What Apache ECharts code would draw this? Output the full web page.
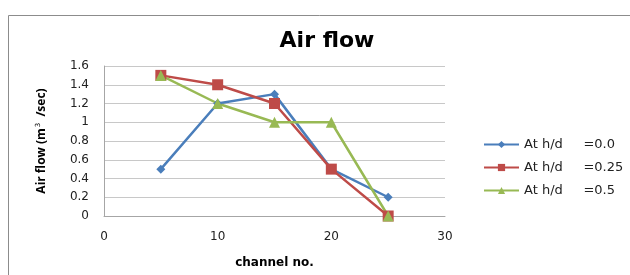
<!DOCTYPE html>
<html>
<head>
<meta charset="utf-8" />
<title>Air flow</title>
<script src="https://cdn.jsdelivr.net/npm/echarts@6/dist/echarts.min.js"></script>
<style>
  html, body { margin: 0; padding: 0; background: #fff; }
  #main { width: 630px; height: 275px; }
</style>
</head>
<body>
<div id="main"></div>
<script>
// channel numbers
var channels = [5, 10, 15, 20, 25];
// air flow values per h/d
var flow00 = [0.5, 1.2, 1.3, 0.5, 0.2];
var flow025 = [1.5, 1.4, 1.2, 0.5, 0];
var flow05 = [1.5, 1.2, 1.0, 1.0, 0];
var seriesNames = ['At h/d     =0.0', 'At h/d     =0.25', 'At h/d     =0.5'];

function pairs(vals) {
  return channels.map(function (c, i) { return [c, vals[i]]; });
}

var chart = echarts.init(document.getElementById('main'));
var font = '"DejaVu Sans", sans-serif';

var option = {
  animation: false,
  graphic: [{
    type: 'rect',
    shape: { x: 8.5, y: 15.5, width: 700, height: 300 },
    style: { fill: 'none', stroke: '#8c8c8c', lineWidth: 1 }
  }],
  title: {
    text: 'Air flow',
    left: 322, top: 25, textAlign: 'center',
    textStyle: { fontFamily: font, fontWeight: 'bold', fontSize: 22, color: '#000' }
  },
  legend: {
    orient: 'vertical',
    left: 478, top: 133,
    itemWidth: 35, itemHeight: 9, itemGap: 10,
    textStyle: { fontFamily: font, fontSize: 13, color: '#222' },
    data: seriesNames
  },
  grid: { left: 104, right: 185, top: 66, bottom: 59 },
  xAxis: {
    type: 'value', min: 0, max: 30, interval: 10,
    name: 'channel no.', nameLocation: 'middle', nameGap: 41,
    nameTextStyle: { fontFamily: font, fontWeight: 'bold', fontSize: 12, color: '#000' },
    axisLine: { lineStyle: { color: '#a6a6a6' } },
    axisTick: { show: false },
    axisLabel: { fontFamily: font, fontSize: 12, color: '#222', margin: 15 },
    splitLine: { show: false }
  },
  yAxis: {
    type: 'value', min: 0, max: 1.6, interval: 0.2,
    name: '{a|Air flow (m}{s|3}{a| /sec)}', nameLocation: 'middle', nameGap: 56,
    nameTextStyle: {
      rich: {
        a: { fontFamily: '"Liberation Sans Narrow", "Open Sans", sans-serif', fontWeight: 'bold', fontSize: 12, color: '#000' },
        s: { fontFamily: font, fontSize: 7, color: '#000', verticalAlign: 'top', padding: [0, 3, 6, 1] }
      }
    },
    axisLine: { show: true, lineStyle: { color: '#a6a6a6' } },
    axisTick: { show: false },
    axisLabel: { fontFamily: font, fontSize: 12, color: '#222', margin: 15 },
    splitLine: { lineStyle: { color: '#c8c8c8' } }
  },
  series: [
    {
      name: seriesNames[0], type: 'line', data: pairs(flow00),
      symbol: 'diamond', symbolSize: 9,
      lineStyle: { color: '#4a7ebb', width: 2.5 },
      itemStyle: { color: '#4a7ebb' }
    },
    {
      name: seriesNames[1], type: 'line', data: pairs(flow025),
      symbol: 'rect', symbolSize: 11,
      lineStyle: { color: '#be4b48', width: 2.5 },
      itemStyle: { color: '#be4b48' }
    },
    {
      name: seriesNames[2], type: 'line', data: pairs(flow05),
      symbol: 'triangle', symbolSize: 11,
      lineStyle: { color: '#98b954', width: 2.5 },
      itemStyle: { color: '#98b954' }
    }
  ]
};
chart.setOption(option);
</script>
</body>
</html>
